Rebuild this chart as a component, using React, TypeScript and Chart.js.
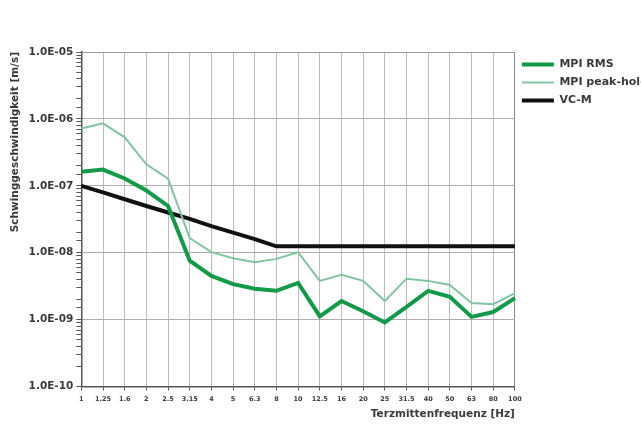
import React, { useEffect, useRef } from 'react';
import { Chart, registerables } from 'chart.js';

Chart.register(...registerables);

const frequencies = ['1', '1.25', '1.6', '2', '2.5', '3.15', '4', '5', '6.3', '8', '10', '12.5', '16', '20', '25', '31.5', '40', '50', '63', '80', '100'];

const mpiRms = [1.63e-7, 1.75e-7, 1.29e-7, 8.5e-8, 5.0e-8, 7.6e-9, 4.5e-9, 3.4e-9, 2.9e-9, 2.7e-9, 3.55e-9, 1.12e-9, 1.9e-9, 1.34e-9, 9.1e-10, 1.55e-9, 2.7e-9, 2.2e-9, 1.1e-9, 1.3e-9, 2.1e-9];

const mpiPeakHold = [7.2e-7, 8.6e-7, 5.3e-7, 2.1e-7, 1.28e-7, 1.66e-8, 1.02e-8, 8.3e-9, 7.2e-9, 8.1e-9, 1.02e-8, 3.8e-9, 4.7e-9, 3.8e-9, 1.9e-9, 4.1e-9, 3.8e-9, 3.3e-9, 1.78e-9, 1.7e-9, 2.5e-9];

const vcM = [1.0e-7, 8.0e-8, 6.3e-8, 5.0e-8, 4.0e-8, 3.2e-8, 2.5e-8, 2.0e-8, 1.6e-8, 1.25e-8, 1.25e-8, 1.25e-8, 1.25e-8, 1.25e-8, 1.25e-8, 1.25e-8, 1.25e-8, 1.25e-8, 1.25e-8, 1.25e-8, 1.25e-8];

const yTickValues = [1e-10, 1e-9, 1e-8, 1e-7, 1e-6, 1e-5];
const yTickLabels = ['1.0E-10', '1.0E-09', '1.0E-08', '1.0E-07', '1.0E-06', '1.0E-05'];

const seriesNames = ['MPI RMS', 'MPI peak-hold', 'VC-M'];

const majorIndex = (v: number) =>
  yTickValues.findIndex((t) => Math.abs(v / t - 1) < 1e-6);

const FONT = 'DejaVu Sans';
const TEXT = '#3a3a3a';

export default function App() {
  const ref = useRef<HTMLCanvasElement | null>(null);

  useEffect(() => {
    if (!ref.current) return;
    const chart = new Chart(ref.current, {
      type: 'line',
      data: {
        labels: frequencies,
        datasets: [
          {
            label: seriesNames[0],
            data: mpiRms,
            borderColor: '#139a48',
            backgroundColor: '#139a48',
            borderWidth: 4,
            pointRadius: 0,
            tension: 0,
          },
          {
            label: seriesNames[1],
            data: mpiPeakHold,
            borderColor: '#84c3a2',
            backgroundColor: '#84c3a2',
            borderWidth: 2,
            pointRadius: 0,
            tension: 0,
          },
          {
            label: seriesNames[2],
            data: vcM,
            borderColor: '#111111',
            backgroundColor: '#111111',
            borderWidth: 4,
            pointRadius: 0,
            tension: 0,
          },
        ],
      },
      options: {
        animation: false,
        responsive: false,
        devicePixelRatio: 1,
        layout: { padding: { left: 9, top: 52, right: 42, bottom: 7 } },
        plugins: {
          legend: {
            position: 'right',
            align: 'start',
            labels: {
              usePointStyle: true,
              pointStyle: 'line',
              pointStyleWidth: 32,
              padding: 7,
              color: TEXT,
              font: { family: FONT, size: 11, weight: 'bold' },
            },
          },
          tooltip: { enabled: false },
        },
        scales: {
          x: {
            type: 'category',
            offset: false,
            border: { color: '#555', width: 1.5 },
            grid: {
              color: (ctx: any) => (ctx.index === frequencies.length - 1 ? '#888' : '#bdbdbd'),
              tickColor: '#555',
              tickLength: 4,
            },
            ticks: {
              autoSkip: false,
              maxRotation: 0,
              padding: 5,
              color: TEXT,
              font: { family: FONT, size: 6.5, weight: 'bold' },
            },
            title: {
              display: true,
              text: 'Terzmittenfrequenz [Hz]',
              align: 'end',
              color: TEXT,
              font: { family: FONT, size: 10.5, weight: 'bold' },
              padding: { top: 0, bottom: 0 },
            },
          },
          y: {
            type: 'logarithmic',
            min: 1e-10,
            max: 1e-5,
            border: { color: '#555', width: 1.5 },
            grid: {
              color: (ctx: any) => {
                const v = ctx.tick ? ctx.tick.value : NaN;
                const i = majorIndex(v);
                if (i < 0) return 'rgba(0,0,0,0)';
                return i === yTickValues.length - 1 ? '#999' : '#b4acac';
              },
              tickColor: '#555',
              tickLength: 5,
            },
            ticks: {
              autoSkip: false,
              padding: 3,
              color: TEXT,
              font: { family: FONT, size: 10.5, weight: 'bold' },
              callback: (value: any) => {
                const i = majorIndex(Number(value));
                return i < 0 ? '' : yTickLabels[i];
              },
            },
            title: {
              display: true,
              text: 'Schwinggeschwindigkeit [m/s]',
              align: 'end',
              color: TEXT,
              font: { family: FONT, size: 10.5, weight: 'bold' },
              padding: { top: 0, bottom: 4 },
            },
          },
        },
      },
    } as any);
    return () => chart.destroy();
  }, []);

  return (
    <div style={{ position: 'absolute', left: 0, top: 0, width: 641, height: 428, overflow: 'hidden', background: '#fff' }}>
      <canvas ref={ref} width={700} height={428} style={{ display: 'block', width: 700, height: 428 }} />
    </div>
  );
}
